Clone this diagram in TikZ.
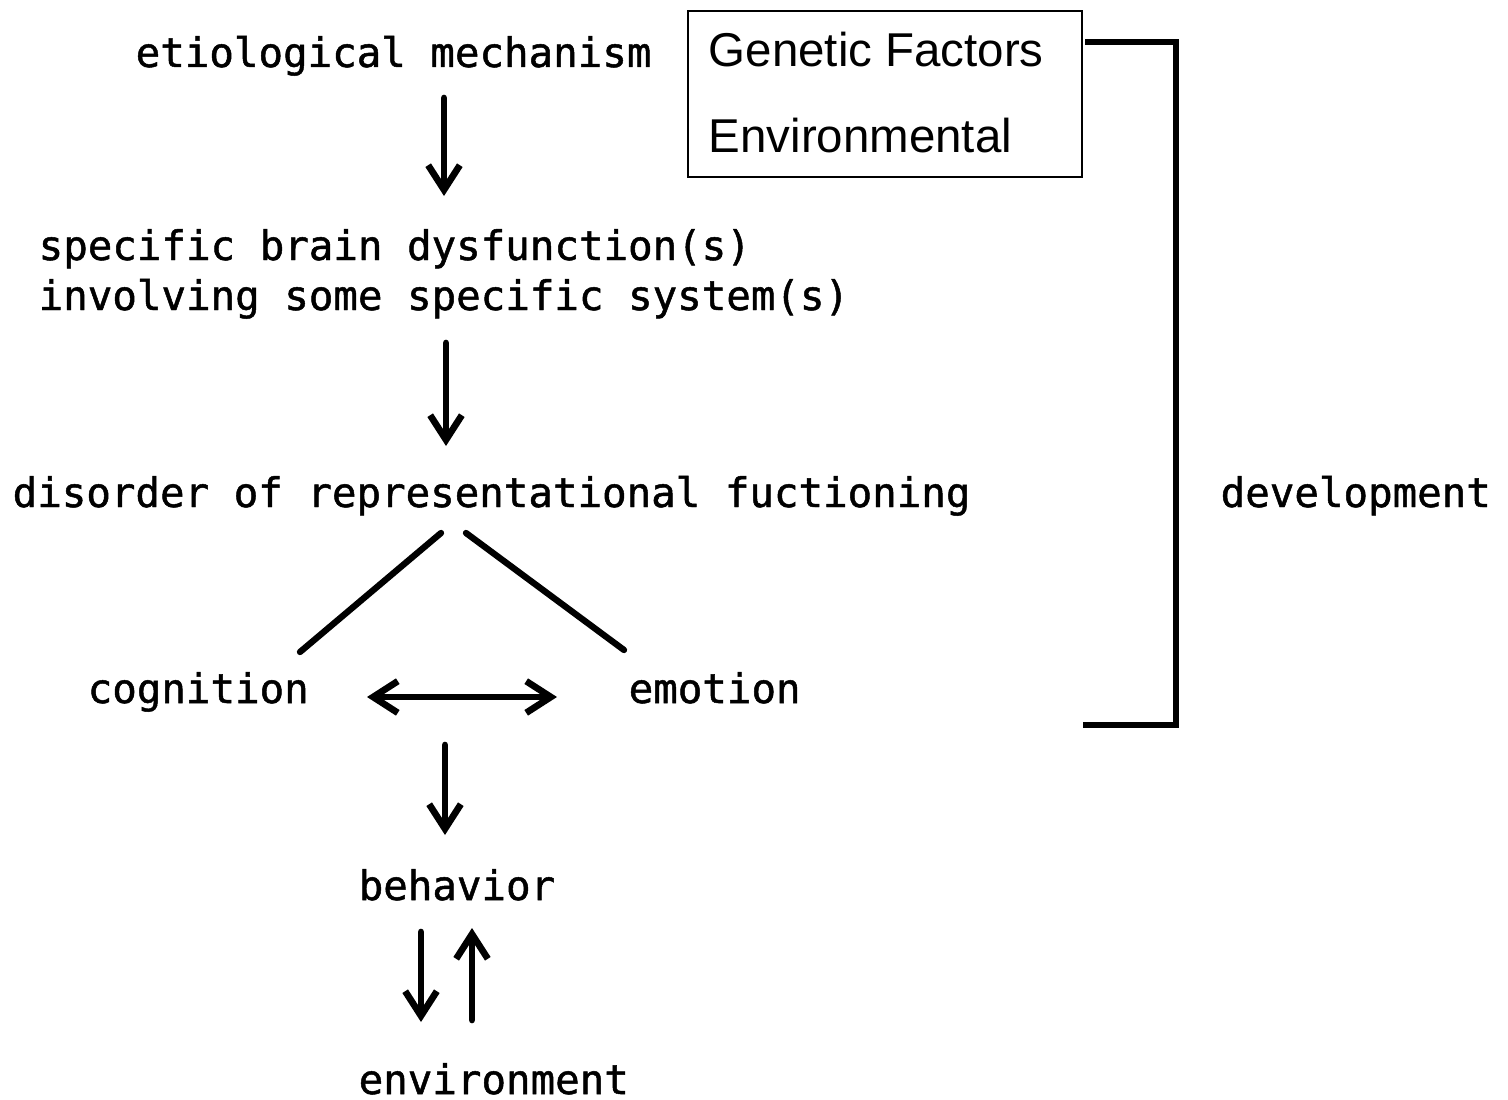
\documentclass[tikz,border=0pt]{standalone}
\usepackage{fontspec}
\setmainfont{Liberation Sans}
\newfontfamily\monofont[FakeBold=1.2]{DejaVu Sans Mono}
\usetikzlibrary{arrows.meta}

\tikzset{
  lbl/.style={anchor=base west,inner sep=0pt,font=\monofont\fontsize{11.6}{14}\selectfont},
  boxlbl/.style={anchor=base west,inner sep=0pt,font=\fontsize{13.5}{16}\selectfont},
  flow/.style={line width=1.9pt,line cap=round,-{Straight Barb[length=7pt,width=9pt]}},
  twoway/.style={line width=1.9pt,line cap=round,{Straight Barb[length=7pt,width=9pt]}-{Straight Barb[length=7pt,width=9pt]}},
  branch/.style={line width=1.8pt,line cap=round},
  bracket/.style={line width=1.6pt,line join=miter}
}

\begin{document}
\begin{tikzpicture}[x=0.01cm,y=-0.01cm]
\useasboundingbox (0,0) rectangle (1508,1100);
% text of the chain
\node[lbl] (etio) at (135,67) {etiological mechanism};
\node[lbl] (dysf) at (38,260) {specific brain dysfunction(s)};
\node[lbl] (invo) at (38,310) {involving some specific system(s)};
\node[lbl] (repr) at (12,507) {disorder of representational fuctioning};
\node[lbl] (cogn) at (87,703) {cognition};
\node[lbl] (emot) at (628,703) {emotion};
\node[lbl] (beha) at (358,900) {behavior};
\node[lbl] (envi) at (358,1094) {environment};
\node[lbl] (deve) at (1220,507) {development};
% factors box
\node[draw,line width=0.6pt,anchor=north west,minimum width=3.94cm,minimum height=1.66cm] (factors) at (687,10) {};
\node[boxlbl] (gene) at (708,67) {Genetic Factors};
\node[boxlbl] (envf) at (708,152) {Environmental};
% end points of the connectors
\coordinate (a1s) at (444,98);   \coordinate (a1e) at (444,196);
\coordinate (a2s) at (446,343);  \coordinate (a2e) at (446,446);
\coordinate (l1s) at (441,533);  \coordinate (l1e) at (300,652);
\coordinate (l2s) at (466,533);  \coordinate (l2e) at (624,650);
\coordinate (ds) at (367,697);   \coordinate (de) at (557,697);
\coordinate (a3s) at (445,745);  \coordinate (a3e) at (445,835);
\coordinate (a4s) at (421,932);  \coordinate (a4e) at (421,1022);
\coordinate (a5s) at (472,1020); \coordinate (a5e) at (472,928);
\coordinate (bra) at (1085,42);  \coordinate (brb) at (1083,725);
\draw[flow] (a1s) -- (a1e);
\draw[flow] (a2s) -- (a2e);
\draw[branch] (l1s) -- (l1e);
\draw[branch] (l2s) -- (l2e);
\draw[twoway] (ds) -- (de);
\draw[flow] (a3s) -- (a3e);
\draw[flow] (a4s) -- (a4e);
\draw[flow] (a5s) -- (a5e);
% development bracket
\draw[bracket] (bra) -- (1176,42) |- (brb);
\end{tikzpicture}
\end{document}
